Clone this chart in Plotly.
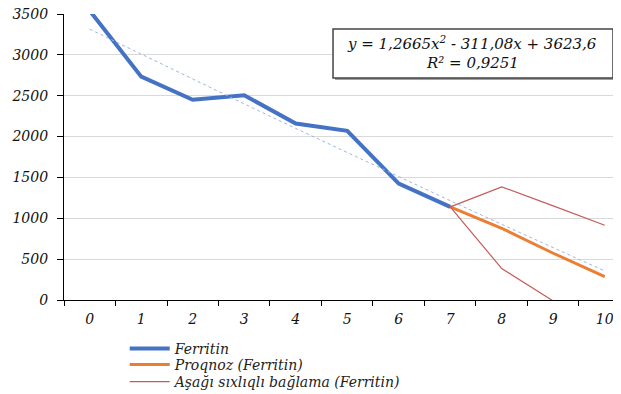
import plotly.graph_objects as go

categories = ["0", "1", "2", "3", "4", "5", "6", "7", "8", "9", "10"]
ferritin = [3540, 2733, 2450, 2505, 2160, 2070, 1425, 1140, None, None, None]
proqnoz = [None, None, None, None, None, None, None, 1140, 878, 572, 285]
lower_bound = [None, None, None, None, None, None, None, 1140, 385, -12, -348]
upper_bound = [None, None, None, None, None, None, None, 1140, 1385, 1152, 915]
trend = [3314, 3007, 2702, 2400, 2100, 1803, 1508, 1216, 926, 639, 355]
equation_lines = ["y = 1,2665x<sup>2</sup> - 311,08x + 3623,6", "R² = 0,9251"]

serif = "DejaVu Serif"
red = "#C65B5B"
legend_font = dict(family=serif, size=14, color="#222222", style="italic")
tick_font = dict(family=serif, size=14, color="#111111", style="italic")

fig = go.Figure()
fig.add_trace(go.Scatter(x=categories, y=ferritin, mode="lines", name="Ferritin",
                         legend="legend",
                         line=dict(color="#4472C4", width=4)))
fig.add_trace(go.Scatter(x=categories, y=proqnoz, mode="lines", name="Proqnoz (Ferritin)",
                         legend="legend2",
                         line=dict(color="#ED7D31", width=3)))
fig.add_trace(go.Scatter(x=categories, y=lower_bound, mode="lines",
                         name="Aşağı sıxlıqlı bağlama (Ferritin)", legend="legend3",
                         line=dict(color=red, width=1.2)))
fig.add_trace(go.Scatter(x=categories, y=upper_bound, mode="lines", showlegend=False,
                         line=dict(color=red, width=1.2)))
fig.add_trace(go.Scatter(x=categories, y=trend, mode="lines", showlegend=False,
                         line=dict(color="#9DB5E0", width=1, dash="dot")))

fig.add_shape(type="rect", xref="paper", yref="paper", layer="above",
              x0=0.4866, x1=0.9892, y0=0.7692, y1=0.9406,
              fillcolor="#a0a0a0", line=dict(width=0))
fig.add_shape(type="rect", xref="paper", yref="paper", layer="above",
              x0=0.483, x1=0.9856, y0=0.7762, y1=0.9476,
              fillcolor="white", line=dict(color="#444444", width=1.5))
for txt, yy in zip(equation_lines, [0.8986, 0.8287]):
    fig.add_annotation(x=0.7325, y=yy, xref="paper", yref="paper",
                       xanchor="center", yanchor="middle", text=txt, showarrow=False,
                       font=dict(family=serif, size=15, color="#111111", style="italic"))

leg_common = dict(x=0.109, xanchor="left", yanchor="middle", font=legend_font,
                  bgcolor="rgba(0,0,0,0)", itemwidth=40)
fig.update_layout(
    template="none",
    width=613, height=386,
    margin=dict(l=56, r=0, t=6, b=94, autoexpand=False),
    paper_bgcolor="white", plot_bgcolor="white",
    showlegend=True,
    legend=dict(y=-0.1713, **leg_common),
    legend2=dict(y=-0.2273, **leg_common),
    legend3=dict(y=-0.2867, **leg_common),
    xaxis=dict(type="category", range=[-0.5, 10.316], tickson="boundaries",
               ticks="outside", ticklen=5, tickcolor="black", tickwidth=1,
               showline=True, linecolor="black", linewidth=1.2,
               showgrid=False, zeroline=False, automargin=False,
               ticklabelstandoff=6, ticklabeloverflow="allow",
               tickfont=tick_font),
    yaxis=dict(range=[0, 3500], dtick=500, ticks="outside", ticklen=6,
               tickcolor="black", showline=True, linecolor="black", linewidth=1.2,
               showgrid=True, gridcolor="#d9d9d9", gridwidth=1, zeroline=False,
               automargin=False, ticklabelstandoff=6, ticklabeloverflow="allow",
               tickfont=tick_font),
)

fig.write_html("out.html")
